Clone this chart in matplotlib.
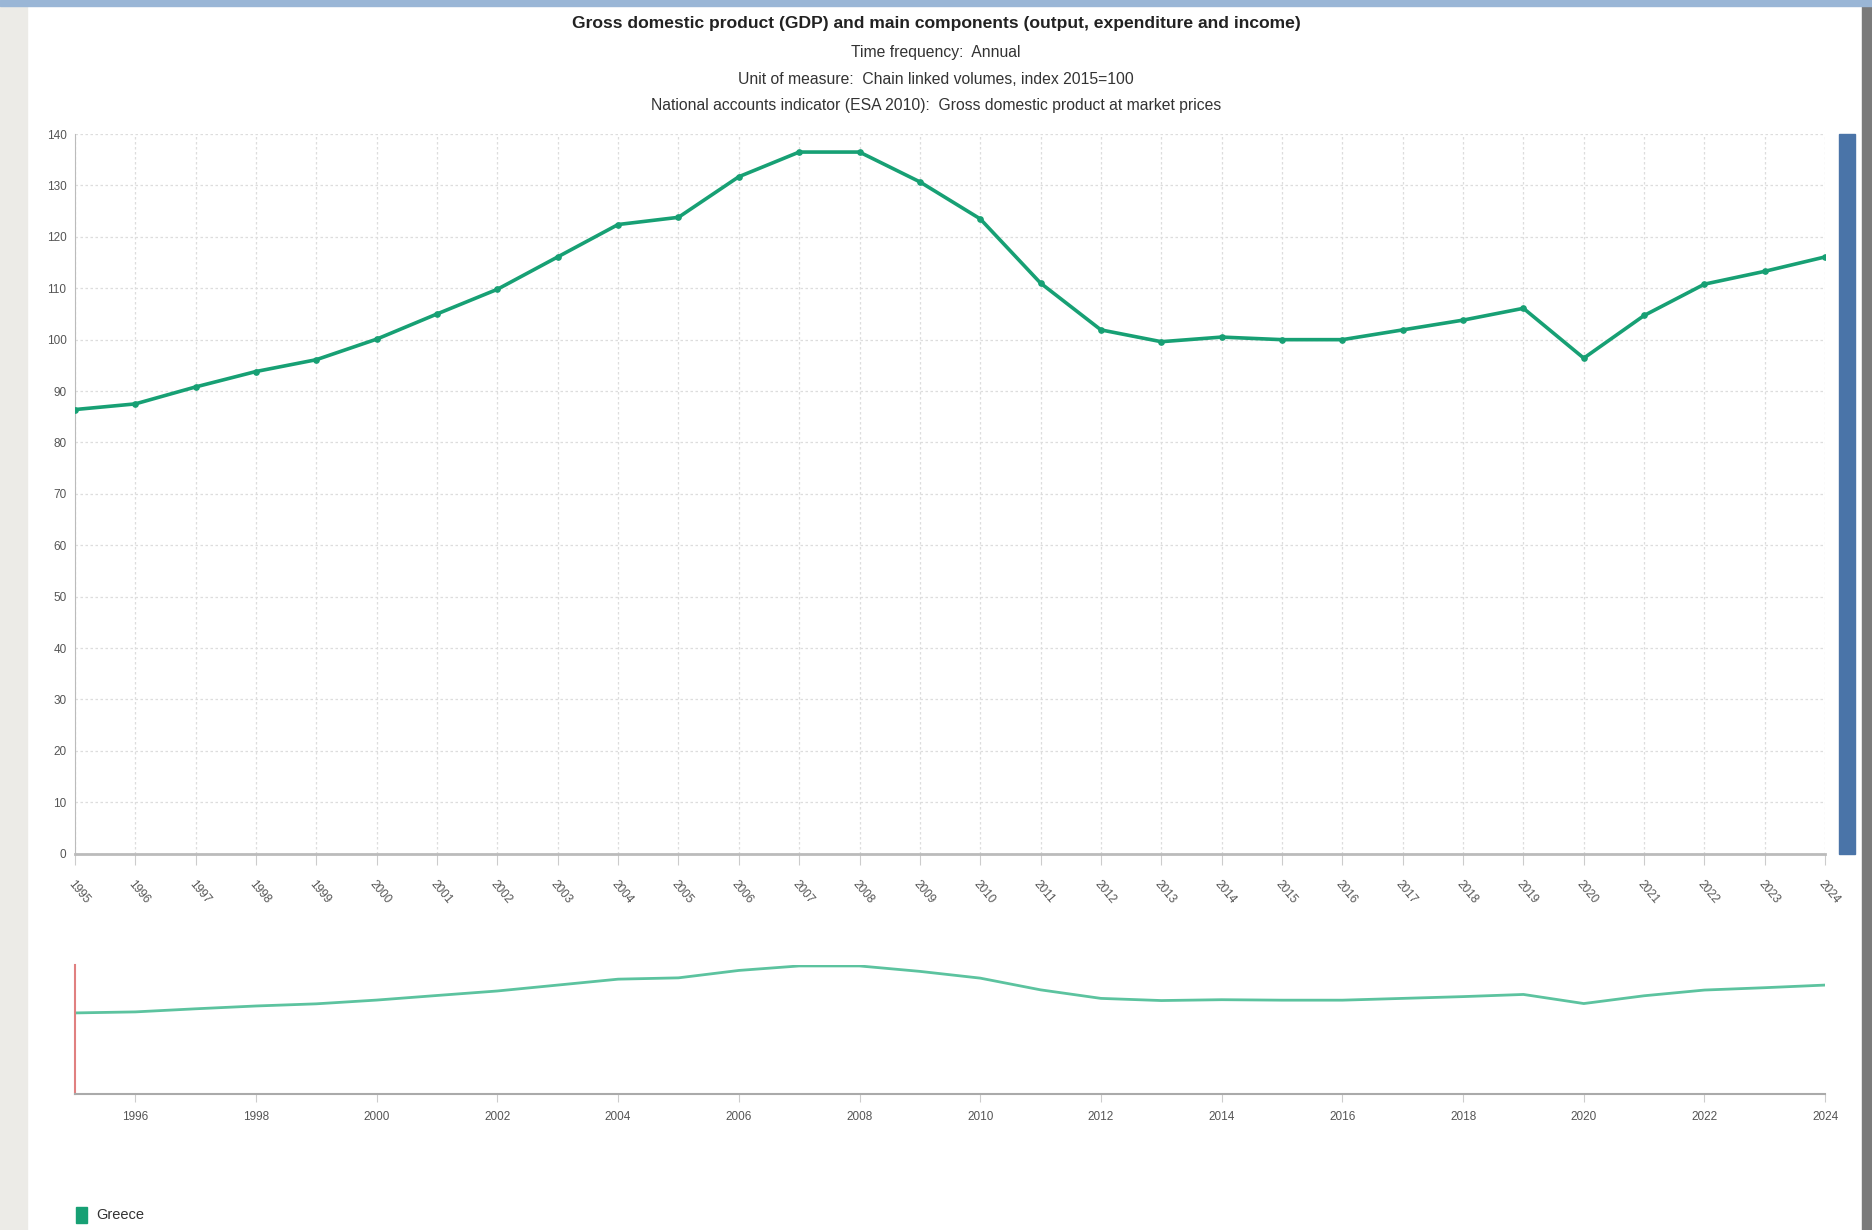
import matplotlib.pyplot as plt
from matplotlib.patches import Rectangle
import matplotlib.font_manager as fm

years = list(range(1995, 2025))
greece = [86.4, 87.5, 90.8, 93.8, 96.1, 100.1, 105.0, 109.8, 116.1, 122.4,
          123.8, 131.7, 136.5, 136.5, 130.7, 123.5, 111.0, 101.9, 99.6, 100.5,
          100.0, 100.0, 101.9, 103.8, 106.1, 96.4, 104.7, 110.8, 113.3, 116.1]
y_ticks = list(range(0, 141, 10))
nav_ticks = list(range(1996, 2025, 2))

title = "Gross domestic product (GDP) and main components (output, expenditure and income)"
subtitles = ["Time frequency:  Annual",
             "Unit of measure:  Chain linked volumes, index 2015=100",
             "National accounts indicator (ESA 2010):  Gross domestic product at market prices"]

names = {f.name for f in fm.fontManager.ttflist}
font = 'Liberation Sans Narrow' if 'Liberation Sans Narrow' in names else 'Liberation Sans'
plt.rcParams['font.family'] = [font, 'DejaVu Sans']

line_col = "#17a074"
grid_col = "#dddddd"
txt_col = "#555555"

fig = plt.figure(figsize=(18.72, 12.30), dpi=100)
fig.patch.set_facecolor('white')

# page frame bits around the screenshot
fig.patches.append(Rectangle((0, 0), 0.0145, 1, transform=fig.transFigure,
                             color="#ecebe7", zorder=-5))
fig.patches.append(Rectangle((0.9945, 0), 0.0055, 1, transform=fig.transFigure,
                             color="#7a7a7a", zorder=-5))
fig.patches.append(Rectangle((0, 0.995), 1, 0.005, transform=fig.transFigure,
                             color="#9ab6d6", zorder=-5))
# scroll bar
fig.patches.append(Rectangle((0.9825, 0.306), 0.0085, 0.585, transform=fig.transFigure,
                             color="#4a74a8", zorder=5))

fig.text(0.5, 0.981, title, ha='center', va='center', fontsize=12.6,
         fontweight='bold', color="#222222")
for i, s in enumerate(subtitles):
    fig.text(0.5, 0.957 - i * 0.0213, s, ha='center', va='center',
             fontsize=11.3, color="#333333")

# main chart
ax = fig.add_axes([0.040, 0.306, 0.935, 0.585])
ax.plot(years, greece, color=line_col, lw=2.6, marker='o', ms=3.8, zorder=3)
ax.set_xlim(years[0], years[-1])
ax.set_ylim(0, 140)
ax.set_xticks(years)
ax.set_xticklabels([str(y) for y in years], rotation=-50, ha='left',
                   va='top', rotation_mode='anchor', fontsize=8.5, color=txt_col)
ax.set_yticks(y_ticks)
ax.set_yticklabels([str(v) for v in y_ticks], fontsize=8.5, color=txt_col)
ax.grid(True, color=grid_col, ls=(0, (2, 2)), lw=0.9)
for s in ['top', 'right']:
    ax.spines[s].set_visible(False)
ax.spines['left'].set_color("#bbbbbb")
ax.spines['bottom'].set_color("#bbbbbb")
ax.spines['bottom'].set_linewidth(2)
ax.tick_params(axis='x', length=8, color="#cccccc", pad=10)
ax.tick_params(axis='y', length=0, pad=6)

# navigator
nav = fig.add_axes([0.040, 0.1106, 0.935, 0.105])
nav.plot(years, greece, color="#5cc39f", lw=2)
nav.set_xlim(years[0], years[-1])
nav.set_ylim(0, 137.7)
nav.set_yticks([])
nav.set_xticks(nav_ticks)
nav.set_xticklabels([str(y) for y in nav_ticks], fontsize=8.5, color=txt_col)
nav.tick_params(axis='x', length=6, color="#cccccc", pad=6)
for s in ['top', 'right']:
    nav.spines[s].set_visible(False)
nav.spines['left'].set_color("#e08080")
nav.spines['left'].set_linewidth(1.5)
nav.spines['bottom'].set_color("#aaaaaa")
nav.spines['bottom'].set_linewidth(1.5)

# legend
fig.patches.append(Rectangle((0.0405, 0.0055), 0.0062, 0.0135,
                             transform=fig.transFigure, color=line_col))
fig.text(0.0515, 0.0122, "Greece", ha='left', va='center', fontsize=10.5,
         color="#333333")

fig.savefig("out.png", dpi=100)
